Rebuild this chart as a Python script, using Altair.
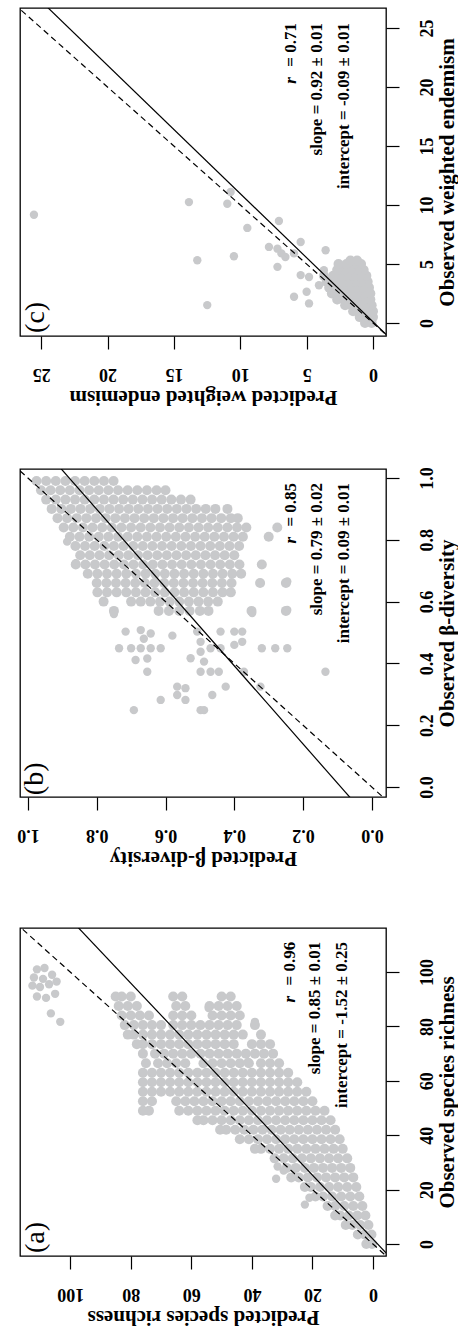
import altair as alt
import pandas as pd

FONT = "Liberation Serif"
PT_COLOR = "#c8c9cb"

# ---------------- Panel (a): species richness ----------------
a_row_obs = [0, 3.5, 7, 10.5, 14, 17.5, 21, 24.5, 28, 31.5, 35, 38.5, 42, 45.5, 49,
             52.5, 56, 59.5, 63, 66.5, 70, 73.5, 77, 80.5, 84, 87.5, 91]
a_row_pred = [
    [0.3, 2.2],
    [0.5, 2.8, 5.0],
    [1.5, 4.2, 6.8, 9.0],
    [2.5, 5.2, 8.0, 10.8, 12.5],
    [3.5, 6.5, 9.5, 12.5, 15.0],
    [4.5, 7.5, 10.5, 13.5, 16.5, 19.0],
    [5.5, 8.5, 11.5, 14.5, 17.5, 20.5, 22.5],
    [6.5, 9.5, 12.5, 15.5, 18.5, 21.5, 24.5, 27.0],
    [7.5, 10.5, 13.5, 16.5, 19.5, 22.5, 25.5, 28.5],
    [8.5, 11.5, 14.5, 17.5, 20.5, 23.5, 26.5, 29.5, 32.5],
    [10, 13, 16, 19, 22, 25, 28, 31, 34, 37, 39],
    [11, 14, 17, 20, 23, 26, 29, 32, 35, 38, 41, 44],
    [12.5, 15.5, 18.5, 21.5, 24.5, 27.5, 30.5, 33.5, 36.5, 39.5, 42.5, 45.5, 48.5, 50.5],
    [14, 17, 20, 23, 26, 29, 32, 35, 38, 41, 44, 47, 50, 53, 56, 58],
    [16, 19, 22, 25, 28, 31, 34, 37, 40, 43, 46, 49, 52, 55, 58, 61, 64, 74, 76],
    [20, 23, 26, 29, 32, 35, 38, 41, 44, 47, 50, 53, 56, 59, 62, 65, 73, 76],
    [22, 25, 28, 31, 34, 37, 40, 43, 46, 49, 52, 55, 58, 61, 64, 67, 70, 73, 76],
    [25, 28, 31, 34, 37, 40, 43, 46, 49, 52, 55, 58, 61, 64, 67, 70, 73, 76],
    [28, 31, 34, 37, 40, 43, 46, 49, 52, 55, 58, 61, 64, 67, 70, 73, 76],
    [31, 34, 37, 41, 44, 47, 50, 53, 56, 62, 65, 68, 71, 75],
    [33, 36, 39, 42, 45, 48, 51, 54, 57, 60, 63, 66, 69, 72, 76],
    [34, 37, 40, 46, 49, 52, 55, 58, 61, 64, 67, 70, 73, 76, 78],
    [37, 43, 46, 49, 52, 55, 58, 61, 64, 67, 70, 73, 76, 79, 81],
    [39, 45, 48, 51, 54, 57, 60, 63, 66, 70, 73, 76, 79, 82],
    [44, 47, 50, 53, 60, 63, 66, 74, 77, 80, 83],
    [45, 48, 51, 54, 62, 65, 78, 81, 84],
    [47, 50, 63, 66, 80, 83, 85],
]
a_extra_pred = [22.5, 21, 32, 31.5, 29.5, 111, 108.5, 112, 109, 106, 112.5, 110, 107, 104.5,
                111, 108, 105, 106.4, 103.3, 41.3, 54.3, 39]
a_extra_obs = [14.5, 17, 24, 28.5, 27, 101, 101.5, 98, 97.5, 99, 95, 94.5, 95.5, 96.5,
               91, 90.5, 92, 84.8, 81.7, 67, 86.8, 81.7]

# ---------------- Panel (b): beta-diversity ----------------
b_row_obs = [0.99, 0.96, 0.93, 0.90, 0.87, 0.84, 0.81, 0.78, 0.75, 0.72, 0.69, 0.66, 0.63, 0.60, 0.57]
b_row_pred = [
    [0.975, 0.947, 0.919, 0.891, 0.863, 0.835, 0.807, 0.779, 0.751],
    [0.962, 0.934, 0.906, 0.878, 0.850, 0.822, 0.794, 0.766, 0.738, 0.710, 0.682, 0.654, 0.626, 0.600],
    [0.947, 0.919, 0.891, 0.863, 0.835, 0.807, 0.779, 0.751, 0.723, 0.695, 0.667, 0.639, 0.611, 0.583,
     0.555, 0.527],
    [0.931, 0.903, 0.875, 0.847, 0.819, 0.791, 0.763, 0.735, 0.707, 0.679, 0.651, 0.623, 0.595, 0.567,
     0.539, 0.511, 0.483, 0.455, 0.42],
    [0.914, 0.886, 0.858, 0.830, 0.802, 0.774, 0.746, 0.718, 0.690, 0.662, 0.634, 0.606, 0.578, 0.550,
     0.522, 0.494, 0.466, 0.438, 0.410, 0.39],
    [0.896, 0.868, 0.840, 0.812, 0.784, 0.756, 0.728, 0.700, 0.672, 0.644, 0.616, 0.588, 0.560, 0.532,
     0.504, 0.476, 0.448, 0.420, 0.392, 0.365, 0.275],
    [0.878, 0.850, 0.822, 0.794, 0.766, 0.738, 0.710, 0.682, 0.654, 0.626, 0.598, 0.570, 0.542, 0.514,
     0.486, 0.458, 0.430, 0.402, 0.375, 0.30],
    [0.862, 0.834, 0.806, 0.778, 0.750, 0.722, 0.694, 0.666, 0.638, 0.610, 0.582, 0.554, 0.526, 0.498,
     0.470, 0.442, 0.414, 0.386],
    [0.848, 0.820, 0.792, 0.764, 0.736, 0.708, 0.680, 0.652, 0.624, 0.596, 0.568, 0.540, 0.512, 0.484,
     0.456, 0.428, 0.40],
    [0.861, 0.833, 0.805, 0.777, 0.749, 0.721, 0.693, 0.665, 0.637, 0.609, 0.581, 0.553, 0.525, 0.497,
     0.469, 0.441, 0.413, 0.385, 0.32],
    [0.826, 0.798, 0.770, 0.742, 0.714, 0.686, 0.658, 0.630, 0.602, 0.574, 0.546, 0.518, 0.490, 0.462,
     0.434, 0.406, 0.38],
    [0.80, 0.772, 0.744, 0.716, 0.688, 0.660, 0.632, 0.604, 0.576, 0.548, 0.520, 0.492, 0.464, 0.436,
     0.408, 0.325, 0.25],
    [0.798, 0.770, 0.742, 0.714, 0.686, 0.658, 0.630, 0.602, 0.574, 0.546, 0.518, 0.490, 0.462, 0.434, 0.41],
    [0.78, 0.70, 0.672, 0.644, 0.616, 0.588, 0.560, 0.532, 0.504, 0.476, 0.448],
    [0.75, 0.62, 0.59, 0.56, 0.53, 0.50, 0.475, 0.35, 0.25],
]
b_extra_pred = [0.75, 0.716, 0.672, 0.643, 0.58, 0.735, 0.70, 0.672, 0.643, 0.614, 0.687, 0.653, 0.653,
                0.508, 0.498, 0.498, 0.488, 0.498, 0.469, 0.445, 0.469, 0.44, 0.44, 0.40, 0.377, 0.40,
                0.377, 0.566, 0.542, 0.566, 0.542, 0.614, 0.692, 0.498, 0.488, 0.464, 0.425, 0.324,
                0.372, 0.32, 0.281, 0.246, 0.135, 0.246, 0.246, 0.348, 0.663, 0.527, 0.886, 0.861]
b_extra_obs = [0.56, 0.503, 0.508, 0.497, 0.49, 0.449, 0.449, 0.449, 0.449, 0.449, 0.411, 0.416, 0.373,
               0.503, 0.47, 0.438, 0.406, 0.373, 0.373, 0.373, 0.449, 0.503, 0.449, 0.503, 0.503, 0.46,
               0.47, 0.325, 0.32, 0.298, 0.282, 0.282, 0.249, 0.249, 0.249, 0.298, 0.325, 0.325,
               0.373, 0.449, 0.449, 0.449, 0.373, 0.573, 0.665, 0.563, 0.48, 0.417, 0.794, 0.724]

# ---------------- Panel (c): weighted endemism ----------------
c_row_obs = [0.0, 0.5, 1.0, 1.5, 2.0, 2.5, 3.0, 3.5, 4.0, 4.5, 5.0, 5.3]
c_row_pred = [
    [0.1, 0.6],
    [0.0, 0.5, 1.0],
    [0.0, 0.5, 1.0, 1.5],
    [0.1, 0.6, 1.1, 1.6, 2.1],
    [0.2, 0.7, 1.2, 1.7, 2.2, 2.7],
    [0.2, 0.7, 1.2, 1.7, 2.2, 2.7, 3.1],
    [0.3, 0.8, 1.3, 1.8, 2.3, 2.8, 3.3],
    [0.4, 0.9, 1.4, 1.9, 2.4, 2.9, 3.5],
    [0.5, 1.0, 1.5, 2.0, 2.5, 3.0, 3.7],
    [0.7, 1.2, 1.7, 2.2, 2.7],
    [0.9, 1.4, 2.0, 2.6],
    [1.2, 1.7],
]
c_extra_pred = [25.55, 13.87, 10.98, 10.73, 9.47, 7.09, 10.48, 13.24, 12.49, 7.84, 7.2, 6.9, 6.6,
                5.45, 5.95, 7.2, 5.45, 4.82, 5.95, 5.0, 4.82, 3.57, 3.7, 4.07, 2.69]
c_extra_obs = [9.18, 10.25, 10.11, 11.1, 8.06, 8.65, 5.66, 5.32, 1.52, 6.45, 6.3, 5.9, 5.6,
               6.87, 5.9, 4.76, 4.06, 3.9, 2.23, 2.65, 1.66, 6.17, 4.48, 3.2, 1.94]

# ---------------- statistics text ----------------
stats = {
    "a": {"r": "= 0.96", "slope": 0.85, "intercept": -1.52, "s_lab": "slope = 0.85 ± 0.01",
          "i_lab": "intercept = -1.52 ± 0.25"},
    "b": {"r": "= 0.85", "slope": 0.79, "intercept": 0.09, "s_lab": "slope = 0.79 ± 0.02",
          "i_lab": "intercept = 0.09 ± 0.01"},
    "c": {"r": "= 0.71", "slope": 0.92, "intercept": -0.09, "s_lab": "slope = 0.92 ± 0.01",
          "i_lab": "intercept = -0.09 ± 0.01"},
}


def rows_df(row_obs, row_pred):
    recs = []
    for o, preds in zip(row_obs, row_pred):
        for p in preds:
            recs.append({"pred": p, "obs": o})
    return pd.DataFrame(recs)


def extra_df(ex_pred, ex_obs):
    return pd.DataFrame({"pred": ex_pred, "obs": ex_obs})


def panel(dense, sparse, st, xdom, ydom, ticks, fmt, xtitle, ytitle, letter, text_pos, letter_pos):
    W, H = 366, 328
    xs = alt.Scale(domain=xdom, reverse=True, nice=False, zero=False)
    ys = alt.Scale(domain=ydom, nice=False, zero=False)
    X = alt.X("pred:Q", scale=xs, axis=alt.Axis(
        title=xtitle, values=ticks, format=fmt, orient="bottom",
        labelAngle=180, labelAlign="center", labelBaseline="alphabetic", labelPadding=19,
        titleAngle=180, titleBaseline="alphabetic", titlePadding=8,
        tickSize=13, labelOverlap=False, labelFlush=False))
    Y = alt.Y("obs:Q", scale=ys, axis=alt.Axis(
        title=ytitle, values=ticks, format=fmt, orient="right",
        labelAngle=270, labelAlign="center", labelBaseline="top", labelPadding=19,
        titleAngle=270, titleBaseline="top", titlePadding=0,
        tickSize=13, labelOverlap=False, labelFlush=False))

    dense_layer = alt.Chart(dense).mark_circle(size=100, color=PT_COLOR, opacity=1).encode(x=X, y=Y)
    sparse_layer = alt.Chart(sparse).mark_circle(size=70, color=PT_COLOR, opacity=1).encode(x=X, y=Y)

    lo, hi = ydom[0] - 10 * (ydom[1] - ydom[0]), ydom[1] + 10 * (ydom[1] - ydom[0])
    fit = pd.DataFrame({"obs": [lo, hi],
                        "pred": [st["slope"] * lo + st["intercept"], st["slope"] * hi + st["intercept"]]})
    one = pd.DataFrame({"obs": [lo, hi], "pred": [lo, hi]})
    fit_layer = alt.Chart(fit).mark_line(color="black", strokeWidth=1.2, clip=True).encode(x=X, y=Y)
    one_layer = alt.Chart(one).mark_line(color="black", strokeWidth=1.2, strokeDash=[6, 4],
                                         clip=True).encode(x=X, y=Y)

    tx_r, tx_s, tx_i, t_obs = text_pos
    txt = pd.DataFrame({"pred": [tx_r, tx_s, tx_i], "obs": [t_obs] * 3,
                        "label": [st["r"], st["s_lab"], st["i_lab"]]})
    txt_layer = alt.Chart(txt).mark_text(angle=270, align="right", baseline="middle", font=FONT,
                                         fontWeight="bold", fontSize=17, color="black").encode(
        x=X, y=Y, text="label:N")
    rr = pd.DataFrame({"pred": [tx_r], "obs": [t_obs], "label": ["r"]})
    r_layer = alt.Chart(rr).mark_text(angle=270, align="right", baseline="middle", font=FONT,
                                      fontWeight="bold", fontStyle="italic", fontSize=17, dx=-54,
                                      color="black").encode(x=X, y=Y, text="label:N")
    lt = pd.DataFrame({"pred": [letter_pos[0]], "obs": [letter_pos[1]], "label": [letter]})
    let_layer = alt.Chart(lt).mark_text(angle=270, align="left", baseline="middle", font=FONT,
                                        fontSize=28, color="black").encode(x=X, y=Y, text="label:N")
    return alt.layer(dense_layer, sparse_layer, fit_layer, one_layer, txt_layer, r_layer,
                     let_layer).properties(width=W, height=H)


pa = panel(rows_df(a_row_obs, a_row_pred), extra_df(a_extra_pred, a_extra_obs), stats["a"],
           [-4.3, 116.6], [-4.4, 116.2], [0, 20, 40, 60, 80, 100], "d",
           "Predicted species richness", "Observed species richness", "(a)",
           (27.4, 19.1, 10.2, 111.1), (111.3, -3.3))
pb = panel(rows_df(b_row_obs, b_row_pred), extra_df(b_extra_pred, b_extra_obs), stats["b"],
           [-0.041, 1.023], [-0.032, 1.029], [0.0, 0.2, 0.4, 0.6, 0.8, 1.0], ".1f",
           "Predicted β-diversity", "Observed β-diversity", "(b)",
           (0.235, 0.160, 0.081, 0.984), (0.98, -0.026))
pc = panel(rows_df(c_row_obs, c_row_pred), extra_df(c_extra_pred, c_extra_obs), stats["c"],
           [-0.98, 26.6], [-1.1, 26.7], [0, 5, 10, 15, 20, 25], "d",
           "Predicted weighted endemism", "Observed weighted endemism", "(c)",
           (6.18, 4.22, 2.19, 25.42), (25.4, -0.84))

chart = alt.vconcat(pc, pb, pa, spacing=58).properties(
    padding={"left": 16, "top": 7, "right": 0, "bottom": 0},
    background="white",
).configure_view(stroke="black", strokeWidth=1.3).configure_axis(
    labelFont=FONT, labelFontWeight="bold", labelFontSize=18, labelColor="black",
    titleFont=FONT, titleFontWeight="bold", titleFontSize=21, titleColor="black",
    tickColor="black", tickWidth=1.2, domain=False, grid=False,
)

chart.save("out.html", embed_options={"renderer": "svg", "actions": False})
